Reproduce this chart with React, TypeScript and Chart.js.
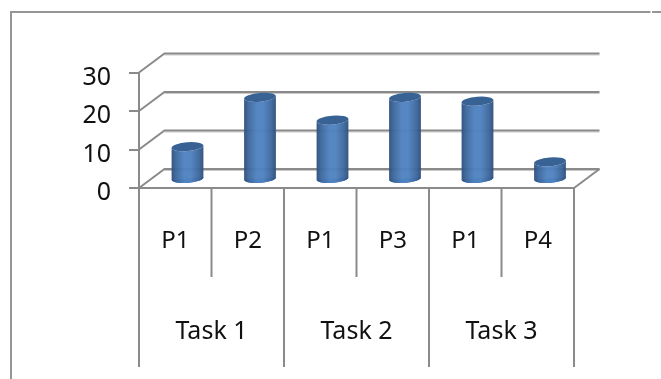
import React, { useEffect, useRef } from "react";
import { Chart, registerables } from "chart.js";

Chart.register(...registerables);

const phases = ["P1", "P2", "P1", "P3", "P1", "P4"];
const tasks = ["Task 1", "Task 2", "Task 3"];
const values = [8, 21, 15, 21, 20, 4];

const LINE = "#8a8a8a";
const FONT = '"Noto Sans", sans-serif';
const DX = 25.5;
const DY = 19;

const chrome = {
  id: "chrome",
  beforeDraw(chart: any) {
    const c = chart.ctx;
    const { left, right, bottom } = chart.chartArea;
    const y = chart.scales.y;
    const x = chart.scales.x;
    // nudge the value labels down to sit where the reference has them
    const items = y.getLabelItems();
    if (!items.__shifted) {
      items.forEach((it: any) => {
        it.options.translation[1] += 5;
      });
      items.__shifted = true;
    }
    c.save();
    c.strokeStyle = "#969696";
    c.lineWidth = 2;
    c.beginPath();
    c.moveTo(11, 379);
    c.lineTo(11, 12);
    c.lineTo(650.5, 12);
    c.moveTo(652, 12);
    c.lineTo(661, 12);
    c.stroke();
    y.ticks.forEach((t: any) => {
      const py = y.getPixelForValue(t.value);
      c.strokeStyle = "#c9c9c9";
      c.lineWidth = 1;
      c.beginPath();
      c.moveTo(left + DX, py - DY + 1.5);
      c.lineTo(right + DX, py - DY + 1.5);
      c.stroke();
      c.strokeStyle = LINE;
      c.lineWidth = 2;
      c.beginPath();
      c.moveTo(left, py);
      c.lineTo(left + DX, py - DY);
      c.lineTo(right + DX, py - DY);
      c.stroke();
    });
    c.beginPath();
    c.moveTo(right, bottom);
    c.lineTo(right + DX, bottom - DY);
    c.stroke();
    const n = phases.length;
    for (let i = 0; i <= n; i++) {
      const px = i === n ? right : x.getPixelForValue(i) - (right - left) / n / 2;
      c.beginPath();
      c.moveTo(px, bottom);
      c.lineTo(px, bottom + (i % 2 === 0 ? 179 : 89));
      c.stroke();
    }
    c.restore();
  },
  beforeDatasetsDraw(chart: any) {
    const c = chart.ctx;
    const bars = chart.getDatasetMeta(0).data;
    const bottom = chart.chartArea.bottom;
    bars.forEach((b: any) => {
      const cx = b.x + 12.25;
      const rx = b.width / 2;
      const ry = 4.4;
      const rot = -0.08;
      const baseY = bottom - 9.5;
      const topY = bottom - 11 - (bottom - b.y) * 0.985;
      const g = c.createLinearGradient(cx - rx, 0, cx + rx, 0);
      g.addColorStop(0, "#2e4f7c");
      g.addColorStop(0.14, "#3c679c");
      g.addColorStop(0.4, "#4f82c0");
      g.addColorStop(0.6, "#4f82c0");
      g.addColorStop(0.86, "#3c679c");
      g.addColorStop(1, "#2e4f7c");
      c.save();
      c.globalAlpha = 0.96;
      c.fillStyle = g;
      c.beginPath();
      c.ellipse(cx, topY, rx, ry, rot, Math.PI, 0, true);
      c.ellipse(cx, baseY, rx, ry, rot, 0, Math.PI, false);
      c.closePath();
      c.fill();
      c.globalAlpha = 1;
      c.fillStyle = g;
      c.beginPath();
      c.ellipse(cx, baseY, rx, ry, rot, 0, Math.PI, false);
      c.fill();
      c.fillStyle = "#386294";
      c.beginPath();
      c.ellipse(cx, topY, rx, ry, rot, 0, Math.PI * 2);
      c.fill();
      c.restore();
    });
  },
};

export default function App() {
  const ref = useRef<HTMLCanvasElement>(null);
  useEffect(() => {
    const chart = new Chart(ref.current!, {
      type: "bar",
      data: {
        labels: phases,
        datasets: [
          {
            data: values,
            backgroundColor: "rgba(0,0,0,0)",
            borderWidth: 0,
            barPercentage: 0.44,
            categoryPercentage: 1,
          },
        ],
      },
      plugins: [chrome],
      options: {
        responsive: false,
        devicePixelRatio: 1,
        animation: false,
        layout: { padding: { top: 72.5, right: 87, left: 0, bottom: 0 } },
        plugins: { legend: { display: false }, tooltip: { enabled: false } },
        scales: {
          y: {
            min: 0,
            max: 30,
            afterFit: (s: any) => {
              s.width = 139;
            },
            ticks: {
              stepSize: 10,
              color: "#111",
              padding: 18,
              font: { family: FONT, size: 25 },
            },
            grid: {
              drawOnChartArea: false,
              tickLength: 10,
              color: LINE,
              lineWidth: 2,
            },
            border: { color: LINE, width: 2 },
          },
          x: {
            afterFit: (s: any) => {
              s.height = 95;
            },
            ticks: {
              color: "#111",
              padding: 39,
              maxRotation: 0,
              autoSkip: false,
              font: { family: FONT, size: 24 },
            },
            grid: { display: false, drawTicks: false },
            border: { color: LINE, width: 2 },
          },
          x2: {
            type: "category",
            position: "bottom",
            labels: tasks,
            afterFit: (s: any) => {
              s.height = 96;
            },
            ticks: {
              color: "#111",
              padding: 34,
              maxRotation: 0,
              autoSkip: false,
              font: { family: FONT, size: 25 },
            },
            grid: { display: false, drawTicks: false },
            border: { display: false },
          },
        },
      } as any,
    });
    return () => chart.destroy();
  }, []);
  return (
    <canvas
      ref={ref}
      width={661}
      height={379}
      style={{ position: "absolute", left: 0, top: 0, width: 661, height: 379, display: "block" }}
    />
  );
}
